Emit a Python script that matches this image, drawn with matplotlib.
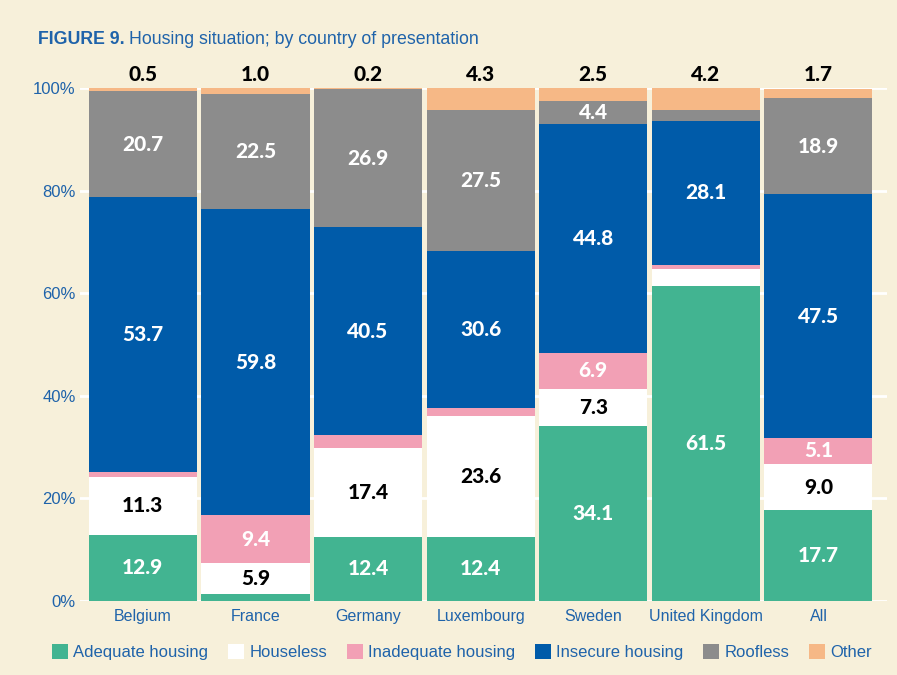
import numpy as np
import matplotlib
matplotlib.use("Agg")
import matplotlib.pyplot as plt
from matplotlib.patches import Patch

countries = ["Belgium", "France", "Germany", "Luxembourg", "Sweden", "United Kingdom", "All"]
adequate = [12.9, 1.4, 12.4, 12.4, 34.1, 61.5, 17.7]
houseless = [11.3, 5.9, 17.4, 23.6, 7.3, 3.3, 9.0]
inadequate = [0.9, 9.4, 2.6, 1.6, 6.9, 0.8, 5.1]
insecure = [53.7, 59.8, 40.5, 30.6, 44.8, 28.1, 47.5]
roofless = [20.7, 22.5, 26.9, 27.5, 4.4, 2.1, 18.9]
other = [0.5, 1.0, 0.2, 4.3, 2.5, 4.2, 1.7]

series = ["Adequate housing", "Houseless", "Inadequate housing",
          "Insecure housing", "Roofless", "Other"]
colors = ["#42b491", "#ffffff", "#f2a0b5", "#005ba9", "#8c8c8c", "#f6b886"]
label_colors = ["white", "black", "white", "white", "white", "black"]

bg = "#f7f0da"
blue_txt = "#1f63aa"
num_font = "Lato"
txt_font = "Liberation Sans"

fig = plt.figure(figsize=(8.97, 6.75), dpi=100, facecolor=bg)
ax = fig.add_axes([0.089, 0.110, 0.900, 0.759])
ax.set_facecolor(bg)

x = np.arange(len(countries))
data = [adequate, houseless, inadequate, insecure, roofless, other]
bottom = np.zeros(len(countries))
for i, vals in enumerate(data):
    vals = np.array(vals)
    ax.bar(x, vals, bottom=bottom, width=0.96, color=colors[i], zorder=3)
    for j, v in enumerate(vals):
        if i == 5:
            ax.annotate(f"{v:.1f}", (x[j], 100), xytext=(0, 3), textcoords="offset points",
                        ha="center", va="bottom", fontsize=15, fontweight="black",
                        color="black", family=num_font)
        elif v >= 4:
            ax.text(x[j], bottom[j] + v / 2, f"{v:.1f}", ha="center", va="center",
                    fontsize=15, fontweight="black", color=label_colors[i],
                    family=num_font, zorder=4)
    bottom += vals

ax.set_xlim(-0.56, 6.61)
ax.set_ylim(0, 100)
ax.set_yticks([0, 20, 40, 60, 80, 100])
ax.set_yticklabels(["0%", "20%", "40%", "60%", "80%", "100%"],
                   color=blue_txt, fontsize=12, family=txt_font)
ax.set_xticks(x)
ax.set_xticklabels(countries, color=blue_txt, fontsize=11.5, family=txt_font)
ax.tick_params(axis="y", length=0, pad=3)
ax.tick_params(axis="x", length=0, pad=6)
ax.grid(axis="y", color="white", linewidth=2, zorder=0)
for s in ax.spines.values():
    s.set_visible(False)

# title: bold part then regular part right after it
t1 = fig.text(0.042, 0.941, "FIGURE 9.", color=blue_txt, fontsize=12.8,
              fontweight="bold", family=txt_font, va="center")
fig.canvas.draw()
bb = t1.get_window_extent()
fig.text(bb.x1 / fig.bbox.width + 0.005, 0.941, "Housing situation; by country of presentation",
         color=blue_txt, fontsize=12.8, family=txt_font, va="center")

handles = [Patch(facecolor=c, edgecolor="none") for c in colors]
leg = fig.legend(handles, series, loc="center", bbox_to_anchor=(0.515, 0.034), ncol=6,
                 frameon=False, handlelength=0.96, handleheight=0.96,
                 handletextpad=0.3, columnspacing=1.2,
                 prop={"family": txt_font, "size": 12})
for t in leg.get_texts():
    t.set_color(blue_txt)

fig.savefig("out.png", dpi=100, facecolor=bg)
